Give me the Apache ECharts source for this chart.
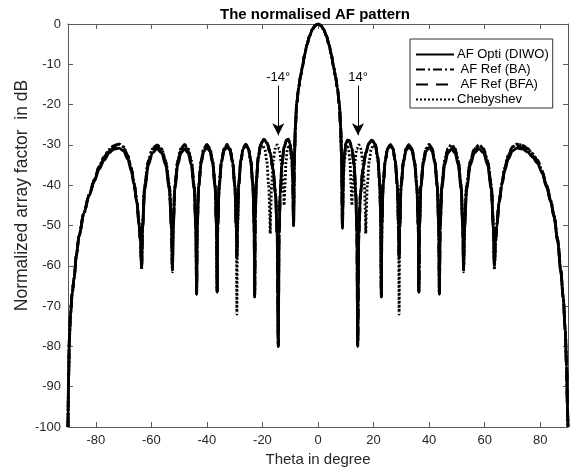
<!DOCTYPE html>
<html>
<head>
<meta charset="utf-8">
<script src="https://cdn.jsdelivr.net/npm/echarts@6/dist/echarts.min.js"></script>
<style>
  html, body { margin: 0; padding: 0; background: #fff; }
  #chart { width: 570px; height: 472px; }
</style>
</head>
<body>
<div id="chart"></div>
<script>
// angle grid shared by the three optimised / reference patterns
const thetaAF = [
  -90, -89.8, -89.5, -89.1, -88.5, -87.8, -87, -86, -84.3, -82.4, -80.5, -78.8, -77, -75.2, -73.5, -71.6, -70, -68.5, -67.2, -66.2, -65.2, -64.4, -63.9, -63.5,
  -63.17, -62.39, -61.06, -59.6, -57.95, -56.3, -54.84, -53.51, -52.73, -52.4,
  -52.14, -51.53, -50.49, -49.36, -48.05, -46.75, -45.61, -44.57, -43.96, -43.7,
  -43.48, -42.96, -42.07, -41.11, -40, -38.89, -37.93, -37.04, -36.52, -36.3,
  -36.09, -35.59, -34.74, -33.82, -32.75, -31.69, -30.76, -29.91, -29.41, -29.2,
  -29.01, -28.56, -27.79, -26.96, -26, -25.04, -24.21, -23.44, -22.99, -22.8,
  -22.6, -22.2, -21.5, -20.6, -19.5, -18.3, -17.2, -16.2, -15.3, -14.7, -14.3,
  -14, -13.6, -13, -12.2, -11.3, -10.7, -10.1, -9.4, -9.1, -8.8,
  -8.5, -8.1, -7.7, -7, -6.3, -5.6, -4.8, -4, -3, -2, -1, 0, 1, 2, 3, 4, 4.8, 5.6, 6.3, 7, 7.7, 8.1, 8.5,
  8.8, 9.1, 9.4, 10.1, 10.7, 11.3, 12.2, 13, 13.6, 14,
  14.3, 14.7, 15.3, 16.2, 17.2, 18.3, 19.4, 20.6, 21.5, 22.2, 22.6,
  22.8, 22.99, 23.44, 24.21, 25.04, 26, 26.96, 27.79, 28.56, 29.01,
  29.2, 29.41, 29.91, 30.76, 31.69, 32.75, 33.82, 34.74, 35.59, 36.09,
  36.3, 36.52, 37.04, 37.93, 38.89, 40, 41.11, 42.07, 42.96, 43.48,
  43.7, 43.96, 44.57, 45.61, 46.75, 48.05, 49.36, 50.49, 51.53, 52.14,
  52.4, 52.73, 53.51, 54.84, 56.3, 57.95, 59.6, 61.06, 62.39, 63.17,
  63.5, 63.9, 64.4, 65.2, 66.2, 67.2, 68.5, 70, 71.6, 73.5, 75.5, 77.2, 79, 80.7, 82.3, 83.8, 85, 86.3, 87.4, 88.3, 89, 89.5, 89.8, 90
]

// AF Opti (DIWO), dB
const afOpti = [
  -100, -88, -78, -72, -67, -63, -57.5, -52.5, -47, -42.6, -39, -36, -33.8, -32, -31.1, -30.8, -31.5, -33.5, -36.5, -40, -44.5, -50, -54, -60.3,
  -51, -41, -35, -32, -31, -32, -35, -41, -51, -61,
  -51, -41, -35, -32, -31, -32, -35, -41, -51, -67,
  -50.6, -40.6, -34.6, -31.6, -30.6, -31.6, -34.6, -40.6, -50.6, -66.5,
  -50.4, -40.4, -34.4, -31.4, -30.4, -31.4, -34.4, -40.4, -50.4, -58,
  -50, -40, -34, -31, -30, -31, -34, -40, -50, -67.7,
  -48, -39, -33, -29.8, -28.6, -29.6, -32, -36, -42, -52, -80,
  -52, -42, -35, -30.5, -28.8, -28.6, -29.5, -33, -38, -50,
  -33, -25, -20, -16, -13, -10.6, -7.6, -5.2, -2.9, -1.3, -0.33, 0, -0.33, -1.3, -2.9, -5.2, -7.6, -10.6, -13, -16, -20, -25, -33,
  -50.7, -38, -33, -29.5, -28.8, -29, -30.8, -35, -42, -52,
  -80, -52, -42, -36, -32, -29.6, -28.8, -29.8, -33, -39, -48,
  -67.7, -50, -40, -34, -31, -30, -31, -34, -40, -50,
  -58, -50.4, -40.4, -34.4, -31.4, -30.4, -31.4, -34.4, -40.4, -50.4,
  -66.5, -50.6, -40.6, -34.6, -31.6, -30.6, -31.6, -34.6, -40.6, -50.6,
  -67, -51, -41, -35, -32, -31, -32, -35, -41, -51,
  -61, -51, -41, -35, -32, -31, -32, -35, -41, -51,
  -60, -54, -50, -44.5, -40, -36.5, -33.5, -31.5, -30.8, -31, -31.8, -33, -34.5, -37, -40.5, -44.2, -48, -54, -61.5, -68, -76, -85, -95, -100
]

// AF Ref (BA), dB
const afBA = [
  -100, -88, -78, -72, -67, -63, -57.5, -52.5, -47, -42.4, -38.6, -35.4, -33, -31.2, -30.2, -29.8, -30.5, -32.6, -35.8, -39.5, -44, -49.5, -54, -60.3,
  -50, -40, -34, -31, -30, -31, -34, -40, -50, -61,
  -50, -40, -34, -31, -29.9, -31, -34, -40, -50, -67,
  -50, -40, -34, -30.9, -29.9, -30.9, -34, -40, -50, -66.5,
  -50, -40, -33.9, -30.9, -29.9, -30.9, -33.9, -40, -50, -58,
  -49.8, -39.8, -33.8, -30.8, -29.8, -30.8, -33.8, -39.8, -49.8, -67.7,
  -48, -39, -33, -29.8, -28.6, -29.6, -32, -36, -42, -52, -80,
  -52, -42, -35, -30.5, -28.8, -28.6, -29.5, -33, -38, -50,
  -33, -25, -20, -16, -13, -10.6, -7.6, -5.2, -2.9, -1.3, -0.33, 0, -0.33, -1.3, -2.9, -5.2, -7.6, -10.6, -13, -16, -20, -25, -33,
  -50.7, -38, -33, -29.5, -28.8, -29, -30.8, -35, -42, -52,
  -80, -52, -42, -36, -32, -29.6, -28.8, -29.8, -33, -39, -48,
  -67.7, -49.8, -39.8, -33.8, -30.8, -29.8, -30.8, -33.8, -39.8, -49.8,
  -58, -50, -40, -33.9, -30.9, -29.9, -30.9, -33.9, -40, -50,
  -66.5, -50, -40, -34, -30.9, -29.9, -30.9, -34, -40, -50,
  -67, -50, -40, -34, -31, -29.9, -31, -34, -40, -50,
  -61, -50, -40, -34, -31, -30, -31, -34, -40, -50,
  -60, -54, -49.5, -44, -39.5, -35.8, -32.6, -30.5, -29.8, -30.1, -30.9, -32.2, -33.8, -36.5, -40, -43.8, -47.6, -53.5, -61, -68, -76, -85, -95, -100
]

// AF Ref (BFA), dB
const afBFA = [
  -100, -88, -78, -72, -67, -63, -57.5, -52.5, -47, -42.5, -38.8, -35.7, -33.4, -31.6, -30.6, -30.2, -30.9, -33, -36.1, -39.8, -44.2, -49.8, -54, -60.3,
  -50.4, -40.4, -34.4, -31.4, -30.3, -31.4, -34.4, -40.4, -50.4, -61,
  -50.4, -40.4, -34.4, -31.4, -30.3, -31.4, -34.4, -40.4, -50.4, -67,
  -50.2, -40.2, -34.2, -31.2, -30.2, -31.2, -34.2, -40.2, -50.2, -66.5,
  -50.2, -40.2, -34.2, -31.1, -30.1, -31.1, -34.2, -40.2, -50.2, -58,
  -49.9, -39.9, -33.9, -30.9, -29.9, -30.9, -33.9, -39.9, -49.9, -67.7,
  -48, -39, -33, -29.8, -28.6, -29.6, -32, -36, -42, -52, -80,
  -52, -42, -35, -30.5, -28.8, -28.6, -29.5, -33, -38, -50,
  -33, -25, -20, -16, -13, -10.6, -7.6, -5.2, -2.9, -1.3, -0.33, 0, -0.33, -1.3, -2.9, -5.2, -7.6, -10.6, -13, -16, -20, -25, -33,
  -50.7, -38, -33, -29.5, -28.8, -29, -30.8, -35, -42, -52,
  -80, -52, -42, -36, -32, -29.6, -28.8, -29.8, -33, -39, -48,
  -67.7, -49.9, -39.9, -33.9, -30.9, -29.9, -30.9, -33.9, -39.9, -49.9,
  -58, -50.2, -40.2, -34.2, -31.1, -30.1, -31.1, -34.2, -40.2, -50.2,
  -66.5, -50.2, -40.2, -34.2, -31.2, -30.2, -31.2, -34.2, -40.2, -50.2,
  -67, -50.4, -40.4, -34.4, -31.4, -30.3, -31.4, -34.4, -40.4, -50.4,
  -61, -50.4, -40.4, -34.4, -31.4, -30.3, -31.4, -34.4, -40.4, -50.4,
  -60, -54, -49.8, -44.2, -39.8, -36.1, -33, -30.9, -30.2, -30.5, -31.3, -32.6, -34.1, -36.8, -40.3, -44, -47.8, -53.8, -61.2, -68, -76, -85, -95, -100
]

// Chebyshev pattern has its own angle grid near the main lobe
const thetaCheb = [
  -90, -89.8, -89.5, -89.1, -88.5, -87.8, -87, -86, -84.3, -82.4, -80.5, -78.8, -77, -75.2, -73.5, -71.6, -70, -68.5, -67.2, -66.2, -65.2, -64.4, -63.9, -63.5,
  -63.17, -62.39, -61.06, -59.6, -57.95, -56.3, -54.84, -53.51, -52.73, -52.4,
  -52.14, -51.53, -50.49, -49.36, -48.05, -46.75, -45.61, -44.57, -43.96, -43.7,
  -43.48, -42.96, -42.07, -41.11, -40, -38.89, -37.93, -37.04, -36.52, -36.3,
  -36.09, -35.59, -34.74, -33.82, -32.75, -31.69, -30.76, -29.91, -29.41, -29.2,
  -29.01, -28.56, -27.79, -26.96, -26, -25.04, -24.21, -23.44, -22.99, -22.8,
  -22.63, -22.24, -21.57, -20.84, -20, -19.16, -18.43, -17.76, -17.37, -17.2,
  -17.05, -16.7, -16.1, -15.45, -14.7, -13.95, -13.3, -12.7, -12.35, -12.2,
  -11.9, -11.5, -11, -10.5, -10, -9.5, -9.1, -8.8,
  -8.5, -8.1, -7.7, -7, -6.3, -5.6, -4.8, -4, -3, -2, -1, 0, 1, 2, 3, 4, 4.8, 5.6, 6.3, 7, 7.7, 8.1, 8.5,
  8.8, 9.1, 9.5, 10, 10.5, 11, 11.5, 11.9,
  12.2, 12.35, 12.7, 13.3, 13.95, 14.7, 15.45, 16.1, 16.7, 17.05,
  17.2, 17.37, 17.76, 18.43, 19.16, 20, 20.84, 21.57, 22.24, 22.63,
  22.8, 22.99, 23.44, 24.21, 25.04, 26, 26.96, 27.79, 28.56, 29.01,
  29.2, 29.41, 29.91, 30.76, 31.69, 32.75, 33.82, 34.74, 35.59, 36.09,
  36.3, 36.52, 37.04, 37.93, 38.89, 40, 41.11, 42.07, 42.96, 43.48,
  43.7, 43.96, 44.57, 45.61, 46.75, 48.05, 49.36, 50.49, 51.53, 52.14,
  52.4, 52.73, 53.51, 54.84, 56.3, 57.95, 59.6, 61.06, 62.39, 63.17,
  63.5, 63.9, 64.4, 65.2, 66.2, 67.2, 68.5, 70, 71.6, 73.5, 75.5, 77.2, 79, 80.7, 82.3, 83.8, 85, 86.3, 87.4, 88.3, 89, 89.5, 89.8, 90
]

// Chebyshev, dB
const afCheb = [
  -100, -88, -78, -72, -67, -63, -57.5, -52.5, -47, -42.4, -38.6, -35.4, -33, -31.2, -30.2, -29.8, -30.5, -32.6, -35.8, -39.5, -44, -49.5, -54, -61,
  -50, -40, -34, -31, -30, -31, -34, -40, -50, -61.5,
  -50, -40, -34, -31, -30, -31, -34, -40, -50, -67,
  -50, -40, -34, -31, -30, -31, -34, -40, -50, -66.5,
  -50, -40, -34, -31, -30, -31, -34, -40, -51, -72,
  -52, -40.5, -34, -31, -30, -31, -34, -40, -50, -67.7,
  -50, -40, -34, -31, -30, -31, -34, -40, -47, -52,
  -47, -40, -34, -31, -30, -31, -34, -39, -42, -45,
  -40, -34, -31, -30, -31, -34, -39, -48,
  -33, -25, -20, -16, -13, -10.6, -7.6, -5.2, -2.9, -1.3, -0.33, 0, -0.33, -1.3, -2.9, -5.2, -7.6, -10.6, -13, -16, -20, -25, -33,
  -48, -39, -34, -31, -30, -31, -34, -40,
  -45, -42, -39, -34, -31, -30, -31, -34, -40, -47,
  -52, -47, -40, -34, -31, -30, -31, -34, -40, -50,
  -67.7, -50, -40, -34, -31, -30, -31, -34, -40.5, -52,
  -72, -51, -40, -34, -31, -30, -31, -34, -40, -50,
  -66.5, -50, -40, -34, -31, -30, -31, -34, -40, -50,
  -67, -50, -40, -34, -31, -30, -31, -34, -40, -50,
  -61.5, -50, -40, -34, -31, -30, -31, -34, -40, -50,
  -61, -54, -49.5, -44, -39.5, -35.8, -32.6, -30.5, -29.8, -30.1, -30.9, -32.2, -33.8, -36.5, -40, -43.8, -47.6, -53.5, -61, -68, -76, -85, -95, -100
]

const seriesNames = ['AF Opti (DIWO)', ' AF Ref (BA)', ' AF Ref (BFA)', 'Chebyshev']
const xTicks = [-80, -60, -40, -20, 0, 20, 40, 60, 80]
// arrows pointing at the first nulls
const arrowLabels = ['-14°', '14°']
const arrowTheta = [-14.3, 14.4]
const arrowFrom = -15.3
const arrowTo = -27.6

const FONT = 'Liberation Sans, Arial, Helvetica, sans-serif'

const chart = echarts.init(document.getElementById('chart'), null, { renderer: 'canvas' })

function pairs (xs, ys) {
  return xs.map((x, i) => [x, ys[i]])
}

const lineTypes = ['solid', [9, 3, 2, 3], [12, 8], [2, 2]]
const lineData = [
  pairs(thetaAF, afOpti),
  pairs(thetaAF, afBA),
  pairs(thetaAF, afBFA),
  pairs(thetaCheb, afCheb)
]

const axisCol = '#5a5a5a'
const tickLabel = { color: '#262626', fontSize: 13, fontFamily: FONT }

const option = {
  animation: false,
  backgroundColor: '#fff',
  title: {
    text: 'The normalised AF pattern',
    left: 310,
    textAlign: 'center',
    top: 2,
    textStyle: { fontSize: 15, fontWeight: 'bold', color: '#000', fontFamily: FONT }
  },
  legend: {
    orient: 'vertical',
    left: 410,
    top: 39,
    padding: [9, 4, 2, 5],
    itemWidth: 38,
    itemHeight: 12,
    itemGap: 2,
    borderColor: '#333',
    borderWidth: 1,
    borderRadius: 0,
    backgroundColor: '#fff',
    itemStyle: { opacity: 0 },
    textStyle: { fontSize: 13, color: '#000', fontFamily: FONT, padding: [0, 0, 0, -2] },
    data: seriesNames
  },
  grid: { left: 68, right: 2, top: 24, bottom: 43, containLabel: false },
  xAxis: [
    {
      type: 'value',
      min: -90,
      max: 90,
      name: 'Theta in degree',
      nameLocation: 'middle',
      nameGap: 25,
      nameMoveOverlap: false,
      nameTextStyle: { fontSize: 15, color: '#262626', fontFamily: FONT },
      axisLine: { show: true, onZero: false, lineStyle: { color: axisCol, width: 1 } },
      axisTick: { show: true, inside: true, length: 5, customValues: xTicks, lineStyle: { color: axisCol } },
      axisLabel: Object.assign({ margin: 7, customValues: xTicks }, tickLabel),
      splitLine: { show: false }
    },
    {
      type: 'value',
      position: 'top',
      min: -90,
      max: 90,
      axisLine: { show: true, onZero: false, lineStyle: { color: axisCol, width: 1 } },
      axisTick: { show: true, inside: true, length: 5, customValues: xTicks, lineStyle: { color: axisCol } },
      axisLabel: { show: false },
      splitLine: { show: false }
    }
  ],
  yAxis: [
    {
      type: 'value',
      min: -100,
      max: 0,
      interval: 10,
      name: 'Normalized array factor  in dB',
      nameLocation: 'middle',
      nameGap: 37,
      nameMoveOverlap: false,
      // label sits above the axis centre in the original
      nameTextStyle: { fontSize: 17.5, color: '#262626', fontFamily: FONT, padding: [0, 0, 0, 60] },
      axisLine: { show: true, onZero: false, lineStyle: { color: axisCol, width: 1 } },
      axisTick: { show: true, inside: true, length: 5, lineStyle: { color: axisCol } },
      axisLabel: Object.assign({ margin: 7 }, tickLabel),
      splitLine: { show: false }
    },
    {
      type: 'value',
      position: 'right',
      min: -100,
      max: 0,
      interval: 10,
      axisLine: { show: true, onZero: false, lineStyle: { color: axisCol, width: 1 } },
      axisTick: { show: true, inside: true, length: 5, lineStyle: { color: axisCol } },
      axisLabel: { show: false },
      splitLine: { show: false }
    }
  ],
  series: seriesNames.map((name, k) => {
    const s = {
      name: name,
      type: 'line',
      xAxisIndex: 0,
      yAxisIndex: 0,
      symbol: 'none',
      smooth: 0.3,
      smoothMonotone: 'x',
      clip: true,
      z: 10 - k,
      lineStyle: { color: '#000', width: 2.8, type: lineTypes[k], cap: 'butt' },
      itemStyle: { color: '#000' },
      data: lineData[k]
    }
    if (k === 0) {
      s.markLine = {
        silent: true,
        symbol: ['none', 'arrow'],
        symbolSize: [9, 12],
        lineStyle: { color: '#000', width: 1, type: 'solid' },
        label: {
          show: true,
          position: 'start',
          formatter: '{b}',
          distance: 2,
          color: '#000',
          fontSize: 13,
          fontFamily: FONT
        },
        emphasis: { disabled: true },
        data: arrowTheta.map((t, i) => [
          { name: arrowLabels[i], coord: [t, arrowFrom] },
          { coord: [t, arrowTo] }
        ])
      }
    }
    return s
  })
}

chart.setOption(option)
</script>
</body>
</html>
